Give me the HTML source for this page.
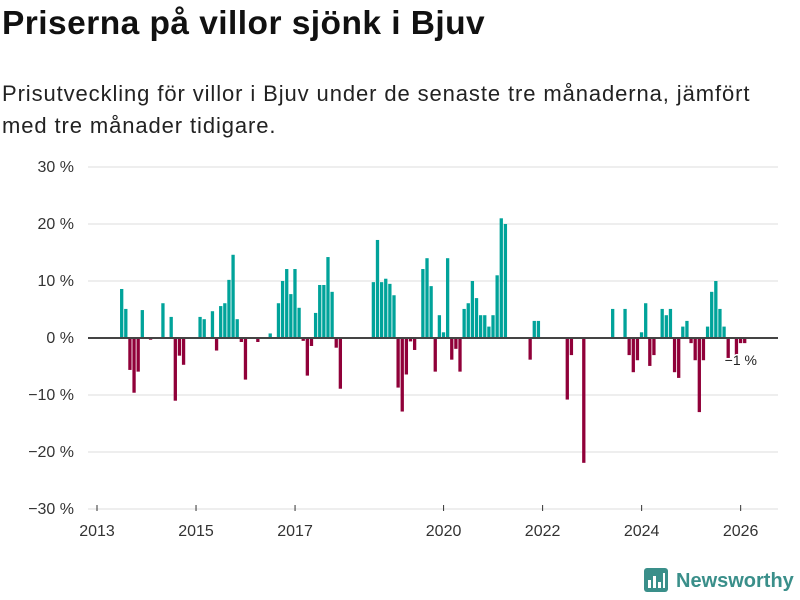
<!DOCTYPE html>
<html><head><meta charset="utf-8">
<style>
body{margin:0;width:800px;height:600px;background:#fff;font-family:"Liberation Sans",sans-serif;overflow:hidden;position:relative}
#title{position:absolute;left:2px;top:5px;font-size:33.5px;font-weight:bold;color:#111;margin:0;letter-spacing:0.45px}
#sub{position:absolute;left:2px;top:78px;font-size:22px;line-height:32px;color:#222;width:798px;letter-spacing:0.9px}
svg{position:absolute;left:0;top:0}
#logo{position:absolute;left:644px;top:568px;display:flex;align-items:center;gap:6px;font-size:20px;font-weight:bold;color:#3a8f8a}
</style></head><body>
<h1 id="title">Priserna på villor sjönk i Bjuv</h1>
<div id="sub">Prisutveckling för villor i Bjuv under de senaste tre månaderna, jämfört<br>med tre månader tidigare.</div>
<svg id="chart" width="800" height="600"></svg>
<div id="logo">
<svg width="26" height="26" style="position:static"><rect x="0" y="0" width="24" height="24" rx="3" fill="#3a8f8a"/><rect x="4" y="12" width="3" height="8" fill="#fff"/><rect x="9" y="8" width="3" height="12" fill="#fff"/><rect x="14" y="14" width="3" height="6" fill="#fff"/><rect x="19" y="5" width="2" height="15" fill="#fff"/></svg>
<span>Newsworthy</span></div>
<script>
const months=[5,6,7,8,9,10,12,15,17,18,19,20,24,25,27,28,29,30,31,32,33,34,35,38,41,43,44,45,46,47,48,49,50,51,52,53,54,55,56,57,58,66,67,68,69,70,71,72,73,74,75,76,78,79,80,81,82,83,84,85,86,87,88,89,90,91,92,93,94,95,96,97,98,104,105,106,113,114,117,124,127,128,129,130,131,132,133,134,136,137,138,139,140,141,142,143,144,145,146,147,148,149,150,151,152,154,155,156];
const values=[8.6,5.1,-5.6,-9.6,-5.9,4.9,-0.3,6.1,3.7,-11,-3.1,-4.7,3.7,3.3,4.7,-2.2,5.6,6.1,10.2,14.6,3.3,-0.7,-7.3,-0.7,0.8,6.1,10,12.1,7.7,12.1,5.3,-0.5,-6.6,-1.4,4.4,9.3,9.3,14.2,8.1,-1.7,-8.9,9.8,17.2,9.8,10.4,9.5,7.5,-8.7,-12.9,-6.4,-0.6,-2.1,12.1,14,9.1,-5.9,4,1,14,-3.8,-1.9,-5.9,5.1,6.1,10,7,4,4,2,4,11,21,20,-3.8,3,3,-10.8,-3,-21.9,5.1,5.1,-3,-6,-3.9,1,6.1,-4.9,-3,5.1,4,5.1,-6,-7,2,3,-0.9,-3.9,-13,-3.9,2,8.1,10,5.1,2,-3.5,-3,-0.9,-0.9];
const yTicks=[30,20,10,0,-10,-20,-30];
const xTickYears=[2013,2015,2017,2020,2022,2024,2026];
const lastLabel="−1 %";
const NS="http://www.w3.org/2000/svg";
const svg=document.getElementById('chart');
const mw=4.126;
const xM=i=>97+i*mw;
const y=v=>338-v*5.7;
function mk(t,a){const e=document.createElementNS(NS,t);for(const k in a)e.setAttribute(k,a[k]);svg.appendChild(e);return e;}
yTicks.forEach(v=>{
  const g=mk('line',{x1:88,x2:778,y1:y(v),y2:y(v),stroke:'#dddddd','stroke-width':1});
  
  
  const t=mk('text',{x:74,y:y(v)+5,'text-anchor':'end','font-size':16,fill:'#333','font-family':'Liberation Sans, sans-serif'});
  t.textContent=(v<0?'−'+(-v):v)+' %';
  
  
});
xTickYears.forEach(yr=>{
  const x=xM((yr-2013)*12);
  const l=mk('line',{x1:x,x2:x,y1:505,y2:511,stroke:'#333','stroke-width':1});
  
  
  const t=mk('text',{x:x,y:536,'text-anchor':'middle','font-size':16,fill:'#333','font-family':'Liberation Sans, sans-serif'});
  t.textContent=yr;
  
  
});
months.forEach((m,i)=>{
  const v=values[i];
  const r=mk('rect',{x:xM(m)+2.4,width:3.3,y:Math.min(y(v),y(0)),height:Math.abs(y(v)-y(0)),fill:v>=0?'#00a39a':'#900039'});
  
  
});
const z=mk('line',{x1:88,x2:778,y1:y(0),y2:y(0),stroke:'#444','stroke-width':2});


const lm=months[months.length-1],lv=values[values.length-1];
const lt=mk('text',{x:xM(lm)-16,y:y(lv)+22,'font-size':14,fill:'#222','font-family':'Liberation Sans, sans-serif',stroke:'#fff','stroke-width':3,'paint-order':'stroke'});
lt.textContent=lastLabel;


</script>
</body></html>
